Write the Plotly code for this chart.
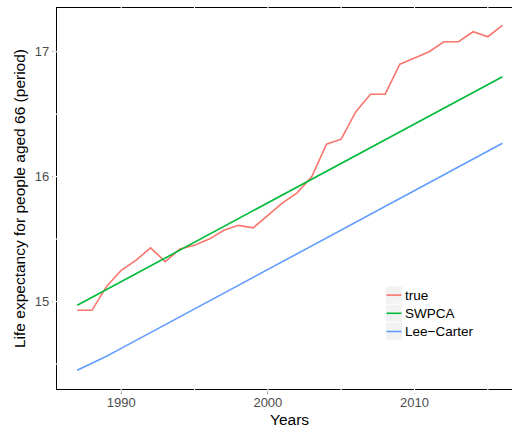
import plotly.graph_objects as go

years = list(range(1987, 2017))

true_vals = [14.93, 14.93, 15.12, 15.25, 15.33, 15.43, 15.32, 15.42, 15.45, 15.50,
             15.57, 15.61, 15.59, 15.69, 15.79, 15.87, 16.00, 16.26, 16.30, 16.52,
             16.66, 16.66, 16.90, 16.95, 17.00, 17.08, 17.08, 17.16, 17.12, 17.21]

swpca_vals = [14.970, 15.033, 15.096, 15.159, 15.222, 15.286, 15.349, 15.412, 15.475, 15.538,
              15.601, 15.664, 15.727, 15.790, 15.853, 15.917, 15.980, 16.043, 16.106, 16.169,
              16.232, 16.295, 16.358, 16.421, 16.484, 16.548, 16.611, 16.674, 16.737, 16.800]

lee_carter_vals = [14.450, 14.503, 14.562, 14.625, 14.688, 14.751, 14.815, 14.878, 14.941, 15.004,
                   15.067, 15.130, 15.194, 15.257, 15.320, 15.383, 15.446, 15.509, 15.573, 15.636,
                   15.699, 15.762, 15.825, 15.888, 15.952, 16.015, 16.078, 16.141, 16.204, 16.267]

series_names = ["true", "SWPCA", "Lee\u2212Carter"]
series_colors = ["#F8766D", "#00BA38", "#619CFF"]

x_ticks = [1990, 2000, 2010]
y_ticks = [15, 16, 17]
x_breaks = [1985, 1990, 1995, 2000, 2005, 2010, 2015]
y_breaks = [14.5, 15, 15.5, 16, 16.5, 17]

FONT = "Liberation Sans, Arial, sans-serif"

# figure geometry (pixels)
W, H = 512, 430
ML, MT, MB = 57, 8, 41
PW, PH = W - ML, H - MT - MB


def px_x(p):
    return (p - ML) / PW


def px_y(p):
    return (H - MB - p) / PH


fig = go.Figure()
for name, vals, col in zip(series_names, [true_vals, swpca_vals, lee_carter_vals], series_colors):
    fig.add_trace(go.Scatter(x=years, y=vals, mode="lines", name=name, showlegend=False,
                             line=dict(color=col, width=1.6)))

shapes = []
# white breaks across the panel border at grid positions
for xb in x_breaks:
    for y0, y1 in [(-0.012, 0.012), (0.988, 1.012)]:
        shapes.append(dict(type="line", xref="x", yref="paper", x0=xb, x1=xb,
                           y0=y0, y1=y1, line=dict(color="white", width=1.2), layer="above"))
for yb in y_breaks:
    shapes.append(dict(type="line", xref="paper", yref="y", x0=-0.01, x1=0.01,
                       y0=yb, y1=yb, line=dict(color="white", width=1.2), layer="above"))

# legend: grey key boxes with a line sample, then the label
annotations = []
key_left, key_right = 386, 402
key_top, key_h = 286.5, 18.2
for i, (name, col) in enumerate(zip(series_names, series_colors)):
    top = key_top + i * key_h
    bot = top + key_h - 1
    mid = (top + bot) / 2
    shapes.append(dict(type="rect", xref="paper", yref="paper",
                       x0=px_x(key_left), x1=px_x(key_right), y0=px_y(bot), y1=px_y(top),
                       fillcolor="#F2F2F2", line=dict(width=0), layer="above"))
    shapes.append(dict(type="line", xref="paper", yref="paper",
                       x0=px_x(key_left + 0.5), x1=px_x(key_right - 0.5), y0=px_y(mid), y1=px_y(mid),
                       line=dict(color=col, width=1.6), layer="above"))
    annotations.append(dict(text=name, xref="paper", yref="paper", x=px_x(key_right + 0.5), y=px_y(mid),
                            xanchor="left", yanchor="middle", showarrow=False,
                            font=dict(family=FONT, size=13.5, color="black")))

# x axis title, centred on the full panel
annotations.append(dict(text="Years", xref="paper", yref="paper", x=px_x(289), y=px_y(419),
                        xanchor="center", yanchor="middle", showarrow=False,
                        font=dict(family=FONT, size=15.5, color="black")))

fig.update_layout(
    width=W, height=H,
    margin=dict(l=ML, r=0, t=MT, b=MB, autoexpand=False),
    paper_bgcolor="white", plot_bgcolor="white",
    font=dict(family=FONT, size=13, color="black"),
    showlegend=False,
    shapes=shapes,
    annotations=annotations,
)

fig.update_xaxes(
    range=[1985.62, 2016.65], tickmode="array", tickvals=x_ticks,
    ticks="outside", ticklen=4, tickcolor="#333333", tickwidth=1,
    tickfont=dict(family=FONT, size=13, color="#4d4d4d"), ticklabelstandoff=-3,
    showline=True, linecolor="black", linewidth=1.2, mirror=True,
    showgrid=False, zeroline=False,
)
fig.update_yaxes(
    range=[14.30, 17.35], tickmode="array", tickvals=y_ticks,
    ticks="outside", ticklen=4, tickcolor="#333333", tickwidth=1,
    tickfont=dict(family=FONT, size=13, color="#4d4d4d"),
    showline=True, linecolor="black", linewidth=1.2, mirror=False,
    showgrid=False, zeroline=False,
    title=dict(text="Life expectancy for people aged 66 (period)",
               font=dict(family=FONT, size=15.5, color="black"), standoff=5),
)

fig.write_html("out.html")
